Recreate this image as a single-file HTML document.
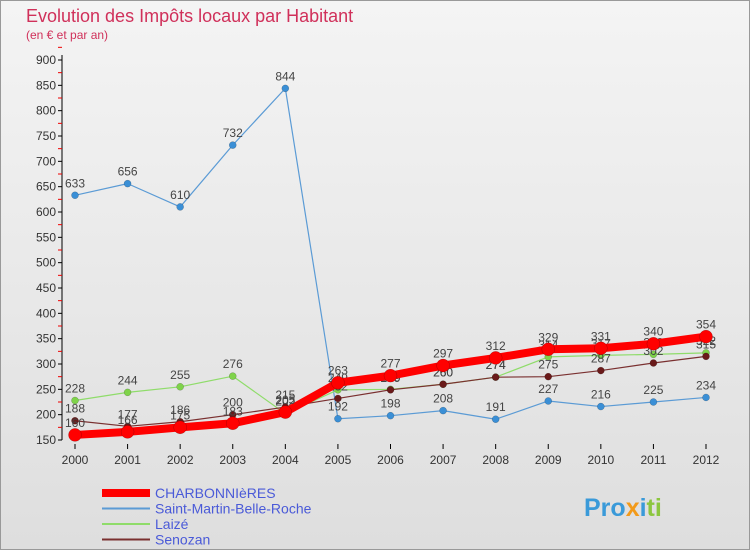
<!DOCTYPE html>
<html><head><meta charset="utf-8"><style>
body{margin:0;width:750px;height:550px;overflow:hidden;font-family:"Liberation Sans",sans-serif;}
#wrap{position:relative;width:750px;height:550px;background:linear-gradient(#f4f4f4,#dedede);}
svg text{font-family:"Liberation Sans",sans-serif;}
</style></head><body>
<div id="wrap">
<svg id="chart" width="750" height="550">
<rect x="0.5" y="0.5" width="749" height="549" fill="none" stroke="#999"/>
<text x="26" y="22" font-size="18" fill="#d0305a">Evolution des Impôts locaux par Habitant</text>
<text x="26" y="39" font-size="12" fill="#d0305a">(en € et par an)</text>
<g id="axes"></g><g id="series"></g><g id="legend"></g>
<text x="584" y="516" font-size="25" font-weight="bold" fill="#3a9ad9">Pro<tspan fill="#f29a1a">x</tspan><tspan fill="#3a9ad9">i</tspan><tspan fill="#8cc63f">ti</tspan></text>
</svg></div>
<script>
const years=[2000,2001,2002,2003,2004,2005,2006,2007,2008,2009,2010,2011,2012];
const charbonnieres=[160,166,175,183,205,263,277,297,312,329,331,340,354];
const saintMartin=[633,656,610,732,844,192,198,208,191,227,216,225,234];
const laize=[228,244,255,276,202,249,250,260,274,314,317,319,322];
const senozan=[188,177,186,200,215,232,249,260,274,275,287,302,315];
const yTicks=[150,200,250,300,350,400,450,500,550,600,650,700,750,800,850,900];
const NS='http://www.w3.org/2000/svg';
const X=i=>75+i*(706-75)/(years.length-1);
const Y=v=>440-(v-150)*380/750;
function mk(t,a,p){const e=document.createElementNS(NS,t);for(const k in a)e.setAttribute(k,a[k]);p.appendChild(e);return e;}
const ax=document.getElementById('axes');
const yl=mk('line',{x1:62,y1:55,x2:62,y2:440,stroke:'#000'},ax);


yTicks.forEach(v=>{
 mk('line',{x1:58,y1:Y(v),x2:62,y2:Y(v),stroke:'#000'},ax);
 mk('line',{x1:58,y1:Y(v+25),x2:62,y2:Y(v+25),stroke:'#e00'},ax);
 const t=mk('text',{x:56,y:Y(v)+4,'font-size':12,'text-anchor':'end',fill:'#333'},ax);t.textContent=v;
 
 
});
years.forEach((y,i)=>{
 mk('line',{x1:X(i),y1:444,x2:X(i),y2:449,stroke:'#000'},ax);
 const t=mk('text',{x:X(i),y:464,'font-size':12,'text-anchor':'middle',fill:'#333'},ax);t.textContent=y;
 
 
});
const sg=document.getElementById('series');
function draw(vals,color,w,r,dot,name){
 const g=mk('g',{},sg);
 
 
 mk('polyline',{points:vals.map((v,i)=>X(i)+','+Y(v)).join(' '),fill:'none',stroke:color,'stroke-width':w,'stroke-linejoin':'round'},g);
 vals.forEach((v,i)=>{
  const c=mk('circle',{cx:X(i),cy:Y(v),r:r,fill:dot,stroke:'rgba(0,0,0,0.3)','stroke-width':0.5},g);
  
  
  const t=mk('text',{x:X(i),y:Y(v)-8,'font-size':12,'text-anchor':'middle',fill:'#444'},g);t.textContent=v;
  
  
 });
}
draw(saintMartin,'#5b9bd5',1.2,3.5,'#3a8fd6','saint-martin-series');
draw(laize,'#8fdc6a',1.2,3.5,'#7fd34a','laize-series');
draw(senozan,'#7a3030',1.2,3.5,'#6a1a1a','senozan-series');
draw(charbonnieres,'#ff0000',8,6.5,'#ff0000','charbonnieres-series');
const lg=document.getElementById('legend');
[['CHARBONNIèRES','#ff0000',8],['Saint-Martin-Belle-Roche','#5b9bd5',2],['Laizé','#8fdc6a',2],['Senozan','#7a3030',2]].forEach((d,i)=>{
 const y=493+i*15.5;
 const l=mk('line',{x1:102,y1:y,x2:150,y2:y,stroke:d[1],'stroke-width':d[2]},lg);
 
 
 const t=mk('text',{x:155,y:y+5,'font-size':14,fill:'#4a5ad8'},lg);t.textContent=d[0];
 
 
});
</script>
</body></html>
